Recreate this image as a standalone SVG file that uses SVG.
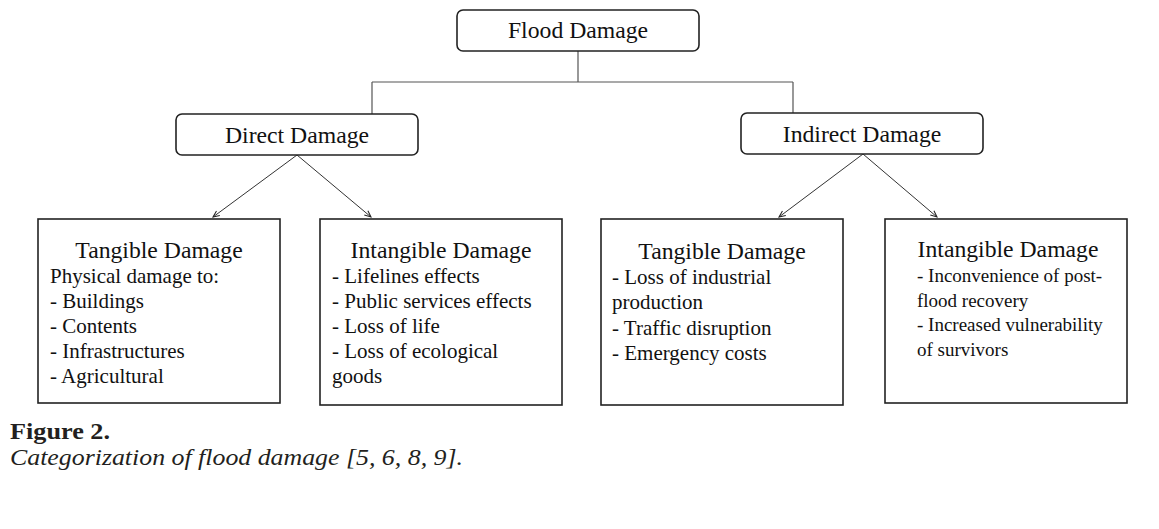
<svg xmlns="http://www.w3.org/2000/svg" width="1159" height="529" viewBox="0 0 1159 529">
<defs>
<marker id="arr" viewBox="0 0 10 10" refX="9" refY="5" markerWidth="8" markerHeight="8" markerUnits="userSpaceOnUse" orient="auto">
<path d="M1,1.5 L9,5 L1,8.5" fill="none" stroke="#222" stroke-width="1.3"/>
</marker>
<style>
.rbox{fill:#fff;stroke:#222;stroke-width:1.6}
.box{fill:#fff;stroke:#222;stroke-width:1.6}
.hd{font-family:"Liberation Serif","Times New Roman",serif;font-size:23.7px;fill:#111;text-anchor:middle}
.bd{font-family:"Liberation Serif","Times New Roman",serif;font-size:21px;fill:#111}
.bs{font-family:"Liberation Serif","Times New Roman",serif;font-size:19px;fill:#111}
.ln{fill:none;stroke:#555;stroke-width:1.2}
.ar{fill:none;stroke:#333;stroke-width:1;marker-end:url(#arr)}
.cap{font-family:"Liberation Serif","Times New Roman",serif;fill:#231f20}
</style>
</defs>
<rect width="1159" height="529" fill="#fff"/>
<g id="connectors">
<path class="ln" d="M578,51 V82 M372,82 H793 M372,82 V114 M793,82 V113"/>
<line class="ar" x1="297" y1="155" x2="213" y2="217"/>
<line class="ar" x1="297" y1="155" x2="371" y2="217"/>
<line class="ar" x1="863" y1="154" x2="779" y2="217"/>
<line class="ar" x1="863" y1="154" x2="937" y2="217"/>
</g>
<g id="flood">
<rect class="rbox" x="457" y="10" width="242" height="41" rx="6"/>
<text class="hd" x="578" y="38">Flood Damage</text>
</g>
<g id="direct">
<rect class="rbox" x="176" y="114" width="242" height="41" rx="6"/>
<text class="hd" x="297" y="143">Direct Damage</text>
</g>
<g id="indirect">
<rect class="rbox" x="741" y="113" width="242" height="41" rx="6"/>
<text class="hd" x="862" y="142">Indirect Damage</text>
</g>
<g id="direct-tangible">
<rect class="box" x="38" y="219" width="242" height="184"/>
<text class="hd" x="159" y="258">Tangible Damage</text>
<text class="bd" x="50" y="283">Physical damage to:</text>
<text class="bd" x="50" y="308">- Buildings</text>
<text class="bd" x="50" y="333">- Contents</text>
<text class="bd" x="50" y="358">- Infrastructures</text>
<text class="bd" x="50" y="383">- Agricultural</text>
</g>
<g id="direct-intangible">
<rect class="box" x="320" y="219" width="242" height="186"/>
<text class="hd" x="441" y="258">Intangible Damage</text>
<text class="bd" x="332" y="283">- Lifelines effects</text>
<text class="bd" x="332" y="308">- Public services effects</text>
<text class="bd" x="332" y="333">- Loss of life</text>
<text class="bd" x="332" y="358">- Loss of ecological</text>
<text class="bd" x="332" y="383">goods</text>
</g>
<g id="indirect-tangible">
<rect class="box" x="601" y="219" width="242" height="186"/>
<text class="hd" x="722" y="259">Tangible Damage</text>
<text class="bd" x="612" y="284">- Loss of industrial</text>
<text class="bd" x="612" y="309">production</text>
<text class="bd" x="612" y="335">- Traffic disruption</text>
<text class="bd" x="612" y="360">- Emergency costs</text>
</g>
<g id="indirect-intangible">
<rect class="box" x="885" y="219" width="242" height="184"/>
<text class="hd" x="1008" y="257">Intangible Damage</text>
<text class="bs" x="917" y="282">- Inconvenience of post-</text>
<text class="bs" x="917" y="307">flood recovery</text>
<text class="bs" x="917" y="331">- Increased vulnerability</text>
<text class="bs" x="917" y="356">of survivors</text>
</g>
<g id="caption">
<text class="cap" x="10" y="439" font-size="24" font-weight="bold" textLength="100" lengthAdjust="spacingAndGlyphs">Figure 2.</text>
<text class="cap" x="10" y="465" font-size="24" font-style="italic" textLength="453" lengthAdjust="spacingAndGlyphs">Categorization of flood damage [5, 6, 8, 9].</text>
</g>
</svg>
